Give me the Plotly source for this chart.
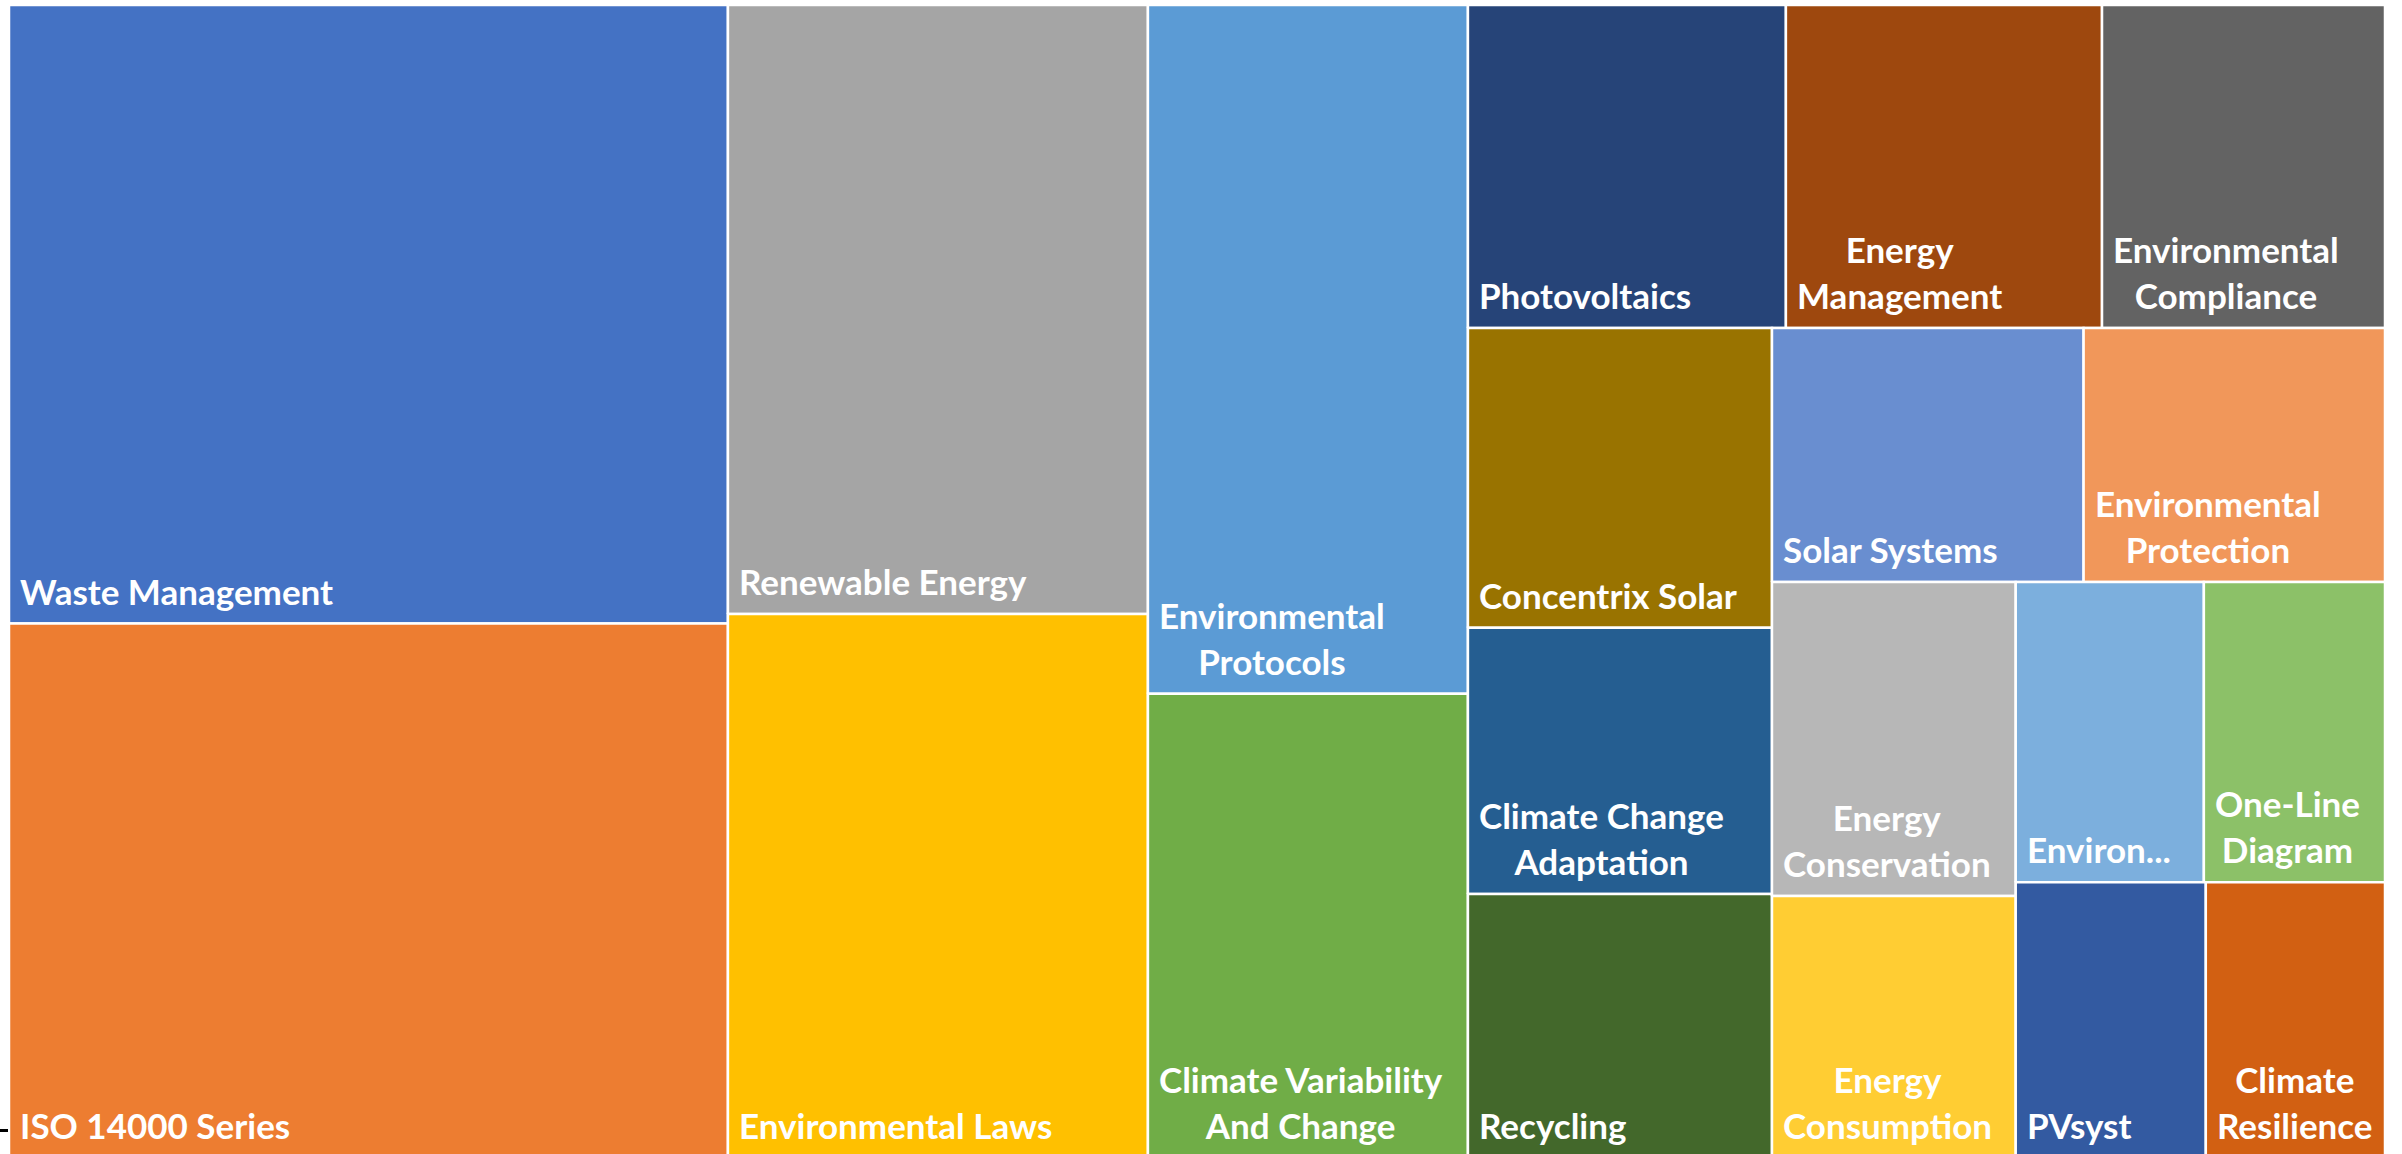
import plotly.graph_objects as go

# ---------------- data ----------------
categories = [
    "Waste Management", "ISO 14000 Series", "Renewable Energy", "Environmental Laws",
    "Environmental Protocols", "Climate Variability And Change", "Photovoltaics",
    "Energy Management", "Environmental Compliance", "Concentrix Solar",
    "Climate Change Adaptation", "Recycling", "Solar Systems", "Environmental Protection",
    "Energy Conservation", "Energy Consumption", "Environ...", "One-Line Diagram",
    "PVsyst", "Climate Resilience",
]

# values estimated from tile areas (sorted, largest first)
values = [
    444.7, 384.3, 255.8, 228.5, 220.4, 148.6, 102.7, 102.1, 91.4, 91.2,
    80.9, 80.3, 79.2, 76.6, 76.5, 63.9, 56.5, 54.4, 52.4, 49.4,
]

# tile text as wrapped in the original
display_text = [
    "Waste Management", "ISO 14000 Series", "Renewable Energy", "Environmental Laws",
    "Environmental<br>Protocols", "Climate Variability<br>And Change", "Photovoltaics",
    "Energy<br>Management", "Environmental<br>Compliance", "Concentrix Solar",
    "Climate Change<br>Adaptation", "Recycling", "Solar Systems", "Environmental<br>Protection",
    "Energy<br>Conservation", "Energy<br>Consumption", "Environ...", "One-Line<br>Diagram",
    "PVsyst", "Climate<br>Resilience",
]

colors = [
    "#4472C4", "#ED7D31", "#A5A5A5", "#FFC000", "#5B9BD5", "#70AD47", "#264478",
    "#9E480E", "#636363", "#997300", "#255E91", "#43682B", "#698ED0", "#F1975A",
    "#B7B7B7", "#FFCD33", "#7CAFDD", "#8CC168", "#335AA1", "#D26012",
]

# ---------------- canvas ----------------
PLOT_W, PLOT_H = 2376.0, 1153.0   # treemap canvas (aspect of the plot area)
Y_CUT = 4.0                        # bottom strip cropped in the original image
PLOT_PX_H = 1149.0                 # plot area height in pixels
PX_PER_UNIT = PLOT_PX_H / (PLOT_H - Y_CUT)


def squarify_excel(vals, x, y, w, h):
    """Squarified treemap; a strip keeps growing while the aspect ratio of
    its newest (smallest) tile does not get worse. y is the bottom edge."""
    n = len(vals)
    rects = [None] * n
    remaining = float(sum(vals))
    i = 0
    while i < n:
        scale = (w * h) / remaining
        column = w >= h
        side = h if column else w

        def aspect(rsum, v):
            t = rsum * scale / side
            ln = v * scale / t
            return max(t / ln, ln / t)

        rsum = vals[i]
        cur = aspect(rsum, vals[i])
        j = i + 1
        while j < n:
            new = aspect(rsum + vals[j], vals[j])
            if new > cur:
                break
            rsum += vals[j]
            cur = new
            j += 1
        t = rsum * scale / side
        if column:
            top = y + h
            for k in range(i, j):
                ln = vals[k] * scale / t
                rects[k] = (x, top - ln, x + t, top)
                top -= ln
            x += t
            w -= t
        else:
            left = x
            for k in range(i, j):
                ln = vals[k] * scale / t
                rects[k] = (left, y + h - t, left + ln, y + h)
                left += ln
            h -= t
        remaining -= rsum
        i = j
    return rects


rects = squarify_excel(values, 0.0, 0.0, PLOT_W, PLOT_H)

fig = go.Figure()
annotations = []
for name, txt, col, (x0, y0, x1, y1) in zip(categories, display_text, colors, rects):
    fig.add_trace(go.Scatter(
        x=[x0, x1, x1, x0, x0], y=[y0, y0, y1, y1, y0],
        mode="lines", fill="toself", fillcolor=col,
        line=dict(color="white", width=2.5),
        name=name, hoverinfo="skip", showlegend=False,
    ))
    anchor_y = max(y0, Y_CUT)
    annotations.append(dict(
        x=x0, y=anchor_y, xref="x", yref="y",
        text=txt, showarrow=False, xanchor="left", yanchor="bottom",
        align="center", xshift=9, yshift=10 - (anchor_y - y0) * PX_PER_UNIT,
        font=dict(family="Lato", size=35, color="white", weight="bold"),
    ))

fig.update_layout(
    width=2402, height=1154,
    margin=dict(l=9, r=17, t=5, b=0),
    paper_bgcolor="white", plot_bgcolor="white",
    xaxis=dict(range=[0, PLOT_W], visible=False, fixedrange=True),
    yaxis=dict(range=[Y_CUT, PLOT_H], visible=False, fixedrange=True),
    annotations=annotations,
    shapes=[dict(type="line", xref="paper", yref="paper",
                 x0=-9 / 2376, x1=-1 / 2376, y0=23.5 / 1149, y1=23.5 / 1149,
                 line=dict(color="black", width=3))],
    showlegend=False,
)

fig.write_html("out.html", config={"displayModeBar": False},
               post_script="document.body.style.margin='0';")
